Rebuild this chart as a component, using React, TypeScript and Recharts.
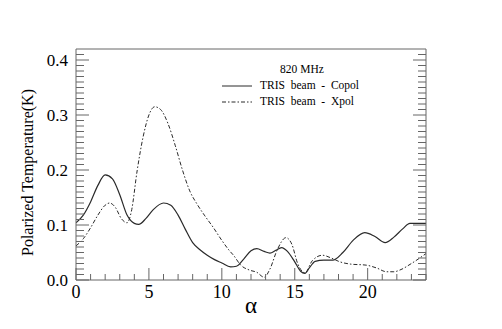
import React from 'react';
import { LineChart, Line, XAxis, YAxis, Legend } from 'recharts';

// ---- data ----
const copolAlpha = [0, 0.5, 1, 1.5, 2, 2.5, 3, 3.5, 4, 4.3, 4.8, 5.3, 6, 6.5, 7, 7.5, 8, 8.5, 9, 9.5, 10, 10.6, 11, 11.5, 12, 12.4, 12.9, 13.3, 13.7, 14.1, 14.5, 15, 15.4, 15.7, 16, 16.4, 17, 17.6, 18.3, 19, 19.8, 20.5, 21.2, 21.8, 22.4, 22.9, 24];
const copolValues = [0.104, 0.118, 0.142, 0.172, 0.191, 0.184, 0.155, 0.118, 0.103, 0.101, 0.112, 0.128, 0.14, 0.136, 0.118, 0.092, 0.068, 0.055, 0.045, 0.037, 0.031, 0.024, 0.025, 0.038, 0.053, 0.057, 0.052, 0.049, 0.054, 0.059, 0.052, 0.033, 0.016, 0.012, 0.022, 0.034, 0.036, 0.036, 0.05, 0.072, 0.086, 0.079, 0.068, 0.078, 0.093, 0.103, 0.103];

const xpolAlpha = [0, 0.5, 1, 1.5, 2, 2.3, 2.7, 3.1, 3.5, 3.8, 4.2, 4.6, 5, 5.4, 5.8, 6.3, 6.8, 7.3, 7.8, 8.3, 8.8, 9.4, 10, 10.5, 10.8, 11.3, 11.9, 12.4, 12.9, 13.3, 13.8, 14.4, 14.8, 15.2, 15.7, 16.2, 16.9, 17.5, 18.1, 18.8, 19.9, 20.6, 21.3, 21.8, 22.2, 23, 24];
const xpolValues = [0.062, 0.075, 0.095, 0.118, 0.136, 0.14, 0.132, 0.112, 0.104, 0.125, 0.2, 0.26, 0.3, 0.315, 0.31, 0.285, 0.245, 0.2, 0.162, 0.138, 0.118, 0.096, 0.072, 0.054, 0.045, 0.027, 0.018, 0.014, 0.005, 0.02, 0.055, 0.077, 0.065, 0.03, 0.013, 0.035, 0.045, 0.04, 0.033, 0.029, 0.027, 0.022, 0.015, 0.015, 0.018, 0.03, 0.048];

const seriesNames = ['TRIS  beam  -  Copol', 'TRIS  beam  -  Xpol'];
const legendTitle = '820 MHz';
const xMajorTicks = [0, 5, 10, 15, 20];
const yMajorTicks = [0, 0.1, 0.2, 0.3, 0.4];
const xLabel = 'α';
const yLabel = 'Polarized Temperature(K)';

const copolData = copolAlpha.map((a, i) => ({ alpha: a, value: copolValues[i] }));
const xpolData = xpolAlpha.map((a, i) => ({ alpha: a, value: xpolValues[i] }));

// minor ticks
const xTicks: number[] = [];
for (let i = 0; i <= 24; i++) xTicks.push(i);
const yTicks: number[] = [];
for (let i = 0; i <= 41; i++) yTicks.push(i / 100);

const FONT = '"Liberation Serif", "DejaVu Serif", serif';
const AXIS = '#666';
const LINE = '#2a2a2a';
const DASHES = ['', '4 2 1.5 2'];

const W = 494;
const H = 321;
const M = { top: 40, left: 67, right: 75, bottom: 48 };

const txt = (size: number): React.CSSProperties => ({ fontFamily: FONT, fontSize: size });

const isMajorX = (v: number) => xMajorTicks.includes(v);
const isMajorY = (v: number) => yMajorTicks.some((t) => Math.abs(t - v) < 1e-6);

const BottomTick = (props: any) => {
  const { x, y, payload } = props;
  const v = payload.value;
  const major = isMajorX(v);
  return (
    <g>
      <line x1={x} x2={x} y1={y} y2={y - (major ? 12 : 6)} stroke={AXIS} strokeWidth={1} />
      {major && (
        <text x={x} y={y + 18} textAnchor="middle" style={txt(18)} fill="#000">
          {v}
        </text>
      )}
    </g>
  );
};

const TopTick = (props: any) => {
  const { x, y, payload } = props;
  const major = isMajorX(payload.value);
  return <line x1={x} x2={x} y1={y} y2={y + (major ? 12 : 6)} stroke={AXIS} strokeWidth={1} />;
};

const LeftTick = (props: any) => {
  const { x, y, payload } = props;
  const v = payload.value;
  const major = isMajorY(v);
  return (
    <g>
      <line x1={x} x2={x + (major ? 13 : 8)} y1={y} y2={y} stroke={AXIS} strokeWidth={1} />
      {major && (
        <text x={x - 8} y={y + 6} textAnchor="end" style={txt(17)} fill="#000">
          {v.toFixed(1)}
        </text>
      )}
    </g>
  );
};

const RightTick = (props: any) => {
  const { x, y, payload } = props;
  const major = isMajorY(payload.value);
  return <line x1={x} x2={x - (major ? 13 : 8)} y1={y} y2={y} stroke={AXIS} strokeWidth={1} />;
};

const XLabel = (props: any) => {
  const vb = props.viewBox || { x: M.left, y: H - M.bottom - 1, width: W - M.left - M.right };
  return (
    <text x={vb.x + vb.width / 2} y={vb.y + 33} textAnchor="middle" style={txt(23)} fill="#000">
      {xLabel}
    </text>
  );
};

const YLabel = (props: any) => {
  const vb = props.viewBox || { x: M.left, width: 1, y: M.top + 1, height: H - M.top - M.bottom - 2 };
  const cx = vb.x + vb.width - 49;
  const cy = vb.y + vb.height / 2 + 8;
  return (
    <text
      x={cx}
      y={cy}
      transform={`rotate(-90 ${cx} ${cy})`}
      textAnchor="middle"
      dominantBaseline="central"
      style={txt(16)}
      fill="#000"
    >
      {yLabel}
    </text>
  );
};

const LegendContent = (props: any) => {
  const payload = props.payload || [];
  const names = payload.length ? payload.map((p: any) => p.value) : seriesNames;
  return (
    <svg width={W} height={H} style={{ position: 'absolute', left: 0, top: 0, pointerEvents: 'none' }}>
      <text x={294} y={65} textAnchor="middle" style={txt(11.5)} fill="#000">
        {legendTitle}
      </text>
      {names.map((n: string, i: number) => {
        const ly = 78 + i * 16;
        const idx = seriesNames.indexOf(n) >= 0 ? seriesNames.indexOf(n) : i;
        return (
          <g key={n}>
            <line x1={214} x2={244} y1={ly} y2={ly} stroke={LINE} strokeWidth={1} strokeDasharray={DASHES[idx] || undefined} />
            <text x={252} y={ly + 3} fill="#000" style={{ ...txt(11.5), whiteSpace: 'pre' }}>
              {n}
            </text>
          </g>
        );
      })}
    </svg>
  );
};

export default function App() {
  return (
    <div style={{ width: W, height: H, position: 'relative', fontFamily: FONT }}>
      <LineChart width={W} height={H} margin={M} style={{ fontFamily: FONT }}>
        <XAxis
          xAxisId="bottom"
          dataKey="alpha"
          type="number"
          domain={[0, 24]}
          allowDataOverflow
          ticks={xTicks}
          interval={0}
          tick={<BottomTick />}
          tickLine={false}
          tickSize={0}
          tickMargin={0}
          height={1}
          axisLine={{ stroke: AXIS }}
          label={<XLabel />}
        />
        <XAxis
          xAxisId="top"
          orientation="top"
          type="number"
          domain={[0, 24]}
          allowDataOverflow
          ticks={xTicks}
          interval={0}
          tick={<TopTick />}
          tickLine={false}
          tickSize={0}
          tickMargin={0}
          height={1}
          axisLine={{ stroke: AXIS }}
        />
        <YAxis
          yAxisId="left"
          type="number"
          domain={[0, 0.42]}
          allowDataOverflow
          ticks={yTicks}
          interval={0}
          tick={<LeftTick />}
          tickLine={false}
          tickSize={0}
          tickMargin={0}
          width={1}
          axisLine={{ stroke: AXIS }}
          label={<YLabel />}
        />
        <YAxis
          yAxisId="right"
          orientation="right"
          type="number"
          domain={[0, 0.42]}
          allowDataOverflow
          ticks={yTicks}
          interval={0}
          tick={<RightTick />}
          tickLine={false}
          tickSize={0}
          tickMargin={0}
          width={1}
          axisLine={{ stroke: AXIS }}
        />
        <Legend
          layout="vertical"
          align="center"
          verticalAlign="middle"
          wrapperStyle={{ left: 0, top: 0, width: W, height: H, pointerEvents: 'none' }}
          content={<LegendContent />}
        />
        <Line
          xAxisId="bottom"
          yAxisId="left"
          data={copolData}
          dataKey="value"
          name={seriesNames[0]}
          type="monotone"
          stroke={LINE}
          strokeWidth={1.2}
          dot={false}
          activeDot={false}
          isAnimationActive={false}
        />
        <Line
          xAxisId="bottom"
          yAxisId="left"
          data={xpolData}
          dataKey="value"
          name={seriesNames[1]}
          type="monotone"
          stroke={LINE}
          strokeWidth={1}
          strokeDasharray={DASHES[1]}
          dot={false}
          activeDot={false}
          isAnimationActive={false}
        />
      </LineChart>
    </div>
  );
}
